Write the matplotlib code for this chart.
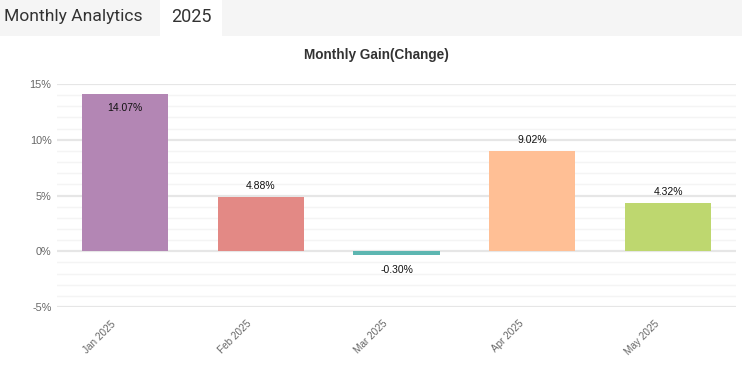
import matplotlib.pyplot as plt
from matplotlib.patches import Rectangle
from matplotlib.ticker import MultipleLocator, FuncFormatter
from matplotlib.transforms import ScaledTranslation

months = ["Jan 2025", "Feb 2025", "Mar 2025", "Apr 2025", "May 2025"]
gains = [14.07, 4.88, -0.30, 9.02, 4.32]
colors = ["#b386b4", "#e38985", "#5db6b1", "#ffbf95", "#bed76f"]

plt.rcParams["font.family"] = ["Liberation Sans", "DejaVu Sans"]

fig = plt.figure(figsize=(7.42, 3.76), dpi=100)
W, H = 742, 376

# header tabs
fig.patches.append(Rectangle((0, 1 - 36 / H), 1, 36 / H, transform=fig.transFigure,
                             facecolor="#f5f5f5", edgecolor="none", zorder=0))
fig.patches.append(Rectangle((160 / W, 1 - 36 / H), 62 / W, 36 / H, transform=fig.transFigure,
                             facecolor="white", edgecolor="none", zorder=1))
fig.text(4 / W, 1 - 17 / H, "Monthly Analytics", fontsize=12.6, color="#333333",
         family=["Roboto", "DejaVu Sans"], va="center", ha="left")
fig.text(191 / W, 1 - 17 / H, "2025", fontsize=13, color="#333333",
         family=["Roboto", "DejaVu Sans"], va="center", ha="center")
fig.text(376 / W, 1 - 55 / H, "Monthly Gain(Change)", fontsize=9.8, fontweight="bold",
         color="#333333", ha="center", va="center")

ax = fig.add_axes([57 / W, 1 - 307 / H, (736 - 57) / W, (307 - 84) / H])
x = range(len(months))
ax.bar(x, gains, width=0.635, color=colors, zorder=3)
ax.set_xlim(-0.5, len(months) - 0.5)
ax.set_ylim(-5, 15)
ax.yaxis.set_major_locator(MultipleLocator(5))
ax.yaxis.set_minor_locator(MultipleLocator(1))
ax.yaxis.set_major_formatter(FuncFormatter(lambda v, p: f"{v:.0f}%"))
ax.grid(which="major", axis="y", color="#e6e6e6", lw=1.6, zorder=0)
ax.grid(which="minor", axis="y", color="#f4f4f4", lw=1.0, zorder=0)
ax.grid(False, axis="x")
for s in ax.spines.values():
    s.set_visible(False)
ax.tick_params(axis="both", which="both", length=0)
ax.tick_params(axis="y", labelsize=7.8, labelcolor="#666666", pad=4)
ax.set_xticks(list(x))
ax.set_xticklabels(months, rotation=45, ha="right", rotation_mode="anchor",
                   fontsize=7.2, color="#666666")
ax.tick_params(axis="x", pad=12)
shift = ScaledTranslation(-14 / 100, 5 / 100, fig.dpi_scale_trans)
for lbl in ax.get_xticklabels():
    lbl.set_transform(lbl.get_transform() + shift)

for i, g in enumerate(gains):
    if g > 12:
        off = -10
    elif g >= 0:
        off = 8
    else:
        off = -11
    ax.annotate(f"{g:.2f}%", (i, g), xytext=(0, off), textcoords="offset points",
                ha="center", va="center", fontsize=7.5, color="#111111", zorder=4)

fig.savefig("out.png", dpi=100)
